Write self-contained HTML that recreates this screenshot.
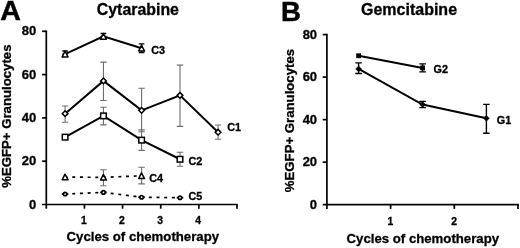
<!DOCTYPE html><html><head><meta charset="utf-8"><style>html,body{margin:0;padding:0;background:#fff;width:520px;height:248px;overflow:hidden}svg{display:block}</style></head><body>
<svg width="520" height="248" viewBox="0 0 520 248">
<rect width="520" height="248" fill="#fff"/>
<g stroke="#000" stroke-width="1.7" stroke-linecap="butt" fill="none">
<line x1="46.30" y1="30.50" x2="46.30" y2="208.70" />
<line x1="42.10" y1="204.50" x2="237.80" y2="204.50" />
<line x1="42.10" y1="161.20" x2="46.30" y2="161.20" />
<line x1="42.10" y1="117.90" x2="46.30" y2="117.90" />
<line x1="42.10" y1="74.60" x2="46.30" y2="74.60" />
<line x1="42.10" y1="31.30" x2="46.30" y2="31.30" />
<line x1="84.44" y1="204.50" x2="84.44" y2="208.70" />
<line x1="122.58" y1="204.50" x2="122.58" y2="208.70" />
<line x1="160.72" y1="204.50" x2="160.72" y2="208.70" />
<line x1="198.86" y1="204.50" x2="198.86" y2="208.70" />
<line x1="237.00" y1="204.50" x2="237.00" y2="208.70" />
<line x1="326.90" y1="33.80" x2="326.90" y2="208.90" />
<line x1="322.70" y1="204.70" x2="518.80" y2="204.70" />
<line x1="322.70" y1="162.17" x2="326.90" y2="162.17" />
<line x1="322.70" y1="119.65" x2="326.90" y2="119.65" />
<line x1="322.70" y1="77.12" x2="326.90" y2="77.12" />
<line x1="322.70" y1="34.60" x2="326.90" y2="34.60" />
<line x1="390.60" y1="204.70" x2="390.60" y2="208.90" />
<line x1="454.30" y1="204.70" x2="454.30" y2="208.90" />
<line x1="518.00" y1="204.70" x2="518.00" y2="208.90" />
</g>
<g font-family="'Liberation Sans', sans-serif" font-weight="bold" fill="#000" stroke="#000" stroke-width="0.3">
<text x="0.2" y="20.2" font-size="28.5" stroke="#000" stroke-width="0.5">A</text>
<text x="281" y="20.8" font-size="27.5" stroke="#000" stroke-width="0.5">B</text>
<text x="96.8" y="15.3" font-size="15.9">Cytarabine</text>
<text x="361" y="14.9" font-size="16">Gemcitabine</text>
<text x="36.3" y="208.60" font-size="13" text-anchor="end">0</text>
<text x="317.1" y="208.80" font-size="13" text-anchor="end">0</text>
<text x="36.3" y="165.30" font-size="13" text-anchor="end">20</text>
<text x="317.1" y="166.27" font-size="13" text-anchor="end">20</text>
<text x="36.3" y="122.00" font-size="13" text-anchor="end">40</text>
<text x="317.1" y="123.75" font-size="13" text-anchor="end">40</text>
<text x="36.3" y="78.70" font-size="13" text-anchor="end">60</text>
<text x="317.1" y="81.22" font-size="13" text-anchor="end">60</text>
<text x="36.3" y="35.40" font-size="13" text-anchor="end">80</text>
<text x="317.1" y="38.70" font-size="13" text-anchor="end">80</text>
<text x="83.84" y="223.5" font-size="10.4" text-anchor="middle">1</text>
<text x="121.98" y="223.5" font-size="10.4" text-anchor="middle">2</text>
<text x="160.12" y="223.5" font-size="10.4" text-anchor="middle">3</text>
<text x="198.26" y="223.5" font-size="10.4" text-anchor="middle">4</text>
<text x="390.50" y="224.6" font-size="10.4" text-anchor="middle">1</text>
<text x="454.20" y="224.6" font-size="10.4" text-anchor="middle">2</text>
<text x="66.6" y="241.4" font-size="13.2">Cycles of chemotherapy</text>
<text x="346.6" y="243.3" font-size="13.2">Cycles of chemotherapy</text>
<text transform="translate(11.3 187.8) rotate(-90)" font-size="13.2">%EGFP+ Granulocytes</text>
<text transform="translate(293.5 192.2) rotate(-90)" font-size="13.2">%EGFP+ Granulocytes</text>
<text x="151.3" y="53.6" font-size="10.8">C3</text>
<text x="227.2" y="131.3" font-size="10.8">C1</text>
<text x="188.5" y="165.4" font-size="10.8">C2</text>
<text x="149.3" y="181.9" font-size="10.8">C4</text>
<text x="188.5" y="200" font-size="10.8">C5</text>
<text x="433.5" y="72.5" font-size="10.8">G2</text>
<text x="496.8" y="123.7" font-size="10.8">G1</text>
</g>
<path d="M65.10 106.00V122.20M61.90 106.00H68.30M61.90 122.20H68.30" stroke="#6e6e6e" stroke-width="1.1" fill="none"/>
<path d="M103.45 62.10V100.50M100.25 62.10H106.65M100.25 100.50H106.65" stroke="#6e6e6e" stroke-width="1.1" fill="none"/>
<path d="M141.60 88.30V131.80M138.40 88.30H144.80M138.40 131.80H144.80" stroke="#6e6e6e" stroke-width="1.1" fill="none"/>
<path d="M180.00 65.10V126.40M176.80 65.10H183.20M176.80 126.40H183.20" stroke="#6e6e6e" stroke-width="1.1" fill="none"/>
<path d="M218.05 125.00V139.20M214.85 125.00H221.25M214.85 139.20H221.25" stroke="#6e6e6e" stroke-width="1.1" fill="none"/>
<path d="M103.45 107.30V124.90M100.25 107.30H106.65M100.25 124.90H106.65" stroke="#6e6e6e" stroke-width="1.1" fill="none"/>
<path d="M141.60 129.90V150.40M138.40 129.90H144.80M138.40 150.40H144.80" stroke="#6e6e6e" stroke-width="1.1" fill="none"/>
<path d="M180.00 152.20V166.30M176.80 152.20H183.20M176.80 166.30H183.20" stroke="#6e6e6e" stroke-width="1.1" fill="none"/>
<path d="M103.45 169.70V185.80M100.25 169.70H106.65M100.25 185.80H106.65" stroke="#6e6e6e" stroke-width="1.1" fill="none"/>
<path d="M141.60 167.30V183.90M138.40 167.30H144.80M138.40 183.90H144.80" stroke="#6e6e6e" stroke-width="1.1" fill="none"/>
<path d="M65.10 51.00V54.15M62.30 51.00H67.90M62.30 54.15H67.90" stroke="#000" stroke-width="1.4" fill="none"/>
<path d="M103.45 33.50V36.40M100.65 33.50H106.25M100.65 36.40H106.25" stroke="#000" stroke-width="1.4" fill="none"/>
<path d="M141.60 43.90V52.60M138.80 43.90H144.40M138.80 52.60H144.40" stroke="#000" stroke-width="1.4" fill="none"/>
<path d="M65.10 113.65L103.45 80.90L141.60 110.35L180.00 95.35L218.05 132.20" fill="none" stroke="#000" stroke-width="2.0"/>
<path d="M65.10 137.15L103.45 115.90L141.60 140.15L180.00 159.25" fill="none" stroke="#000" stroke-width="2.0"/>
<path d="M65.10 54.15L103.45 36.40L141.60 48.30" fill="none" stroke="#000" stroke-width="2.0"/>
<path d="M65.10 177.10L103.45 177.35L141.60 175.80" fill="none" stroke="#000" stroke-width="1.7" stroke-dasharray="3 4.69" stroke-dashoffset="0.54"/>
<path d="M65.10 194.05L103.45 192.40L141.60 197.20L180.00 197.70" fill="none" stroke="#000" stroke-width="1.7" stroke-dasharray="3 4.69" stroke-dashoffset="0.54"/>
<path d="M65.10 110.80L67.95 113.65L65.10 116.50L62.25 113.65Z" fill="#fff" stroke="#000" stroke-width="1.5"/>
<path d="M103.45 78.05L106.30 80.90L103.45 83.75L100.60 80.90Z" fill="#fff" stroke="#000" stroke-width="1.5"/>
<path d="M141.60 107.50L144.45 110.35L141.60 113.20L138.75 110.35Z" fill="#fff" stroke="#000" stroke-width="1.5"/>
<path d="M180.00 92.50L182.85 95.35L180.00 98.20L177.15 95.35Z" fill="#fff" stroke="#000" stroke-width="1.5"/>
<path d="M218.05 129.35L220.90 132.20L218.05 135.05L215.20 132.20Z" fill="#fff" stroke="#000" stroke-width="1.5"/>
<rect x="62.30" y="134.35" width="5.60" height="5.60" fill="#fff" stroke="#000" stroke-width="1.5"/>
<rect x="100.65" y="113.10" width="5.60" height="5.60" fill="#fff" stroke="#000" stroke-width="1.5"/>
<rect x="138.80" y="137.35" width="5.60" height="5.60" fill="#fff" stroke="#000" stroke-width="1.5"/>
<rect x="177.20" y="156.45" width="5.60" height="5.60" fill="#fff" stroke="#000" stroke-width="1.5"/>
<path d="M65.00 51.25L68.05 56.90L62.15 56.90Z" fill="#fff" stroke="#000" stroke-width="1.5" stroke-linejoin="round"/>
<path d="M103.35 33.50L106.40 39.15L100.50 39.15Z" fill="#fff" stroke="#000" stroke-width="1.5" stroke-linejoin="round"/>
<path d="M141.50 45.40L144.55 51.05L138.65 51.05Z" fill="#fff" stroke="#000" stroke-width="1.5" stroke-linejoin="round"/>
<path d="M65.00 174.20L68.05 179.85L62.15 179.85Z" fill="#fff" stroke="#000" stroke-width="1.5" stroke-linejoin="round"/>
<path d="M103.35 174.45L106.40 180.10L100.50 180.10Z" fill="#fff" stroke="#000" stroke-width="1.5" stroke-linejoin="round"/>
<path d="M141.50 172.90L144.55 178.55L138.65 178.55Z" fill="#fff" stroke="#000" stroke-width="1.5" stroke-linejoin="round"/>
<path d="M61.80 194.05H68.40" stroke="#000" stroke-width="1.7"/><circle cx="65.10" cy="194.05" r="1.7" fill="#fff" stroke="#000" stroke-width="1.7"/>
<path d="M100.15 192.40H106.75" stroke="#000" stroke-width="1.7"/><circle cx="103.45" cy="192.40" r="1.7" fill="#fff" stroke="#000" stroke-width="1.7"/>
<path d="M138.30 197.20H144.90" stroke="#000" stroke-width="1.7"/><circle cx="141.60" cy="197.20" r="1.7" fill="#fff" stroke="#000" stroke-width="1.7"/>
<path d="M176.70 197.70H183.30" stroke="#000" stroke-width="1.7"/><circle cx="180.00" cy="197.70" r="1.7" fill="#fff" stroke="#000" stroke-width="1.7"/>
<path d="M422.60 63.90V71.90M419.30 63.90H425.90M419.30 71.90H425.90" stroke="#000" stroke-width="1.4" fill="none"/>
<path d="M358.60 62.90V73.55M355.30 62.90H361.90M355.30 73.55H361.90" stroke="#000" stroke-width="1.4" fill="none"/>
<path d="M422.60 101.40V107.60M419.30 101.40H425.90M419.30 107.60H425.90" stroke="#000" stroke-width="1.4" fill="none"/>
<path d="M486.40 104.35V133.20M483.10 104.35H489.70M483.10 133.20H489.70" stroke="#000" stroke-width="1.4" fill="none"/>
<path d="M358.60 55.75L422.60 67.90" fill="none" stroke="#000" stroke-width="2.0"/>
<path d="M358.60 68.90L422.60 104.50L486.40 118.30" fill="none" stroke="#000" stroke-width="2.0"/>
<rect x="356.20" y="53.35" width="4.8" height="4.8" fill="#000"/>
<rect x="420.20" y="65.50" width="4.8" height="4.8" fill="#000"/>
<path d="M358.60 65.90L361.60 68.90L358.60 71.90L355.60 68.90Z" fill="#000" stroke="#000" stroke-width="0.4"/>
<path d="M422.60 101.50L425.60 104.50L422.60 107.50L419.60 104.50Z" fill="#000" stroke="#000" stroke-width="0.4"/>
<path d="M486.40 115.30L489.40 118.30L486.40 121.30L483.40 118.30Z" fill="#000" stroke="#000" stroke-width="0.4"/>
</svg></body></html>
